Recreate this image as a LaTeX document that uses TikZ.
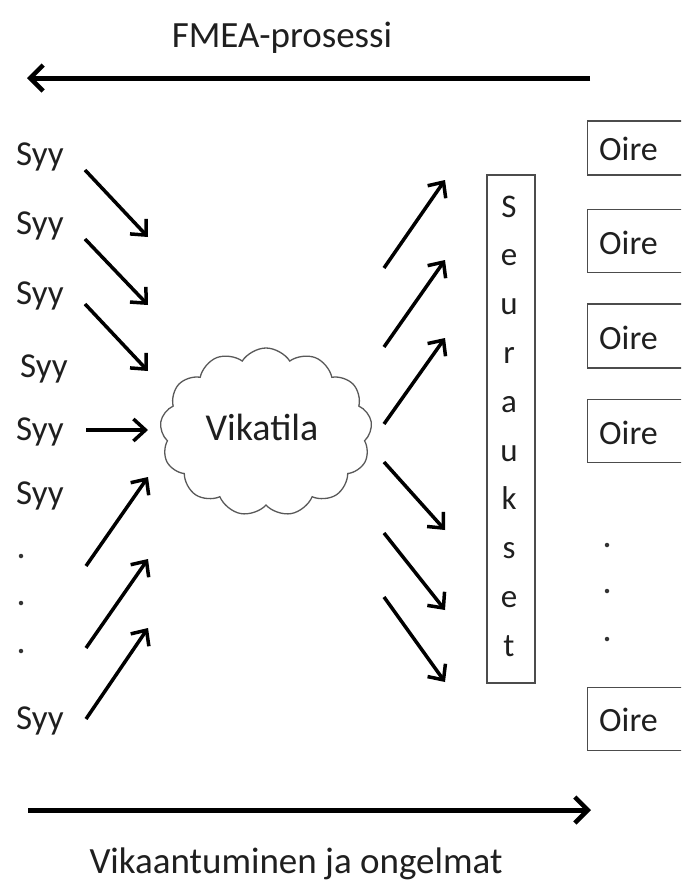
\documentclass[tikz,border=0pt]{standalone}
\usepackage{fontspec}
\setmainfont{Carlito}
\usetikzlibrary{arrows.meta,shapes.symbols}

\begin{document}
\begin{tikzpicture}[x=1pt,y=-1pt,
  txt/.style={font=\fontsize{35}{38}\selectfont, inner sep=0pt, text=black!88},
  smallarr/.style={line width=3.5pt, -{Straight Barb[length=12pt,width=22pt,line width=3.5pt]}},
  bigarr/.style={line width=5pt, -{Straight Barb[length=13pt,width=26pt,line width=4.5pt]}},
  box/.style={draw=black!70, line width=1.4pt, inner sep=0pt},
  dotmark/.style={circle, fill=black!80, inner sep=0pt, minimum size=4.5pt}]

\useasboundingbox (0,0) rectangle (681,881);

% headings
\node[txt, font=\fontsize{37}{40}\selectfont, anchor=base] (fmea) at (282,47) {FMEA-prosessi};
\node[txt, font=\fontsize{37}{40}\selectfont, anchor=base] (vika) at (296,873) {Vikaantuminen ja ongelmat};

% process direction arrows
\coordinate (topR) at (590,78);
\coordinate (topL) at (27,78);
\coordinate (botL) at (28,810);
\coordinate (botR) at (591,810);
\draw[bigarr] (topR) -- (topL);
\draw[bigarr] (botL) -- (botR);

% causes
\foreach \y/\x [count=\n] in {165/16, 234/16, 304/16, 377/20, 440/16, 504/16, 729/16}
  \node[txt, anchor=base west] (s\n) at (\x,\y) {Syy};
\node[dotmark] (d1) at (21,556) {};
\node[dotmark] (d2) at (21,603) {};
\node[dotmark] (d3) at (21,651) {};

% failure mode
\node[cloud, cloud puffs=13, cloud puff arc=115, aspect=1.3, draw=black!65, line width=1.3pt,
      minimum width=212pt, minimum height=168pt, inner sep=0pt] (cl) at (266,432) {};
\node[txt, font=\fontsize{38}{40}\selectfont, anchor=base] (vt) at (262,440) {Vikatila};

% cause arrows
\coordinate (c1a) at (85,170);  \coordinate (c1b) at (148,237);
\coordinate (c2a) at (85,239);  \coordinate (c2b) at (148,305);
\coordinate (c3a) at (85,304);  \coordinate (c3b) at (148,371);
\coordinate (c4a) at (86,430);  \coordinate (c4b) at (148,430);
\coordinate (c5a) at (86,566);  \coordinate (c5b) at (148,477);
\coordinate (c6a) at (86,648);  \coordinate (c6b) at (148,559);
\coordinate (c7a) at (86,719);  \coordinate (c7b) at (148,628);
\foreach \i in {1,...,7} \draw[smallarr] (c\i a) -- (c\i b);

% consequence arrows
\coordinate (e1a) at (384,268); \coordinate (e1b) at (445,180);
\coordinate (e2a) at (384,347); \coordinate (e2b) at (445,260);
\coordinate (e3a) at (384,424); \coordinate (e3b) at (445,338);
\coordinate (e4a) at (384,462); \coordinate (e4b) at (445,530);
\coordinate (e5a) at (384,533); \coordinate (e5b) at (445,610);
\coordinate (e6a) at (384,597); \coordinate (e6b) at (445,682);
\foreach \i in {1,...,6} \draw[smallarr] (e\i a) -- (e\i b);

% consequences box
\node[box, minimum width=48pt, minimum height=508pt] (seur) at (511,429) {};
\foreach \ch [count=\k from 0] in {S,e,u,r,a,u,k,s,e,t}
  \node[txt, font=\fontsize{33}{36}\selectfont, anchor=base] (ch\k) at (509,{217+\k*48.8}) {\ch};

% symptoms
\begin{scope}
\clip (0,0) rectangle (681,881);
\foreach \y/\h [count=\n] in {148/54, 241/63, 336/64, 431/63, 719/63}
  \node[box, anchor=west, minimum width=110pt, minimum height=\h pt] (o\n) at (587,\y) {};
\end{scope}
\foreach \y [count=\n] in {160,254,349,444,731}
  \node[txt, font=\fontsize{34}{36}\selectfont, anchor=base west] (ot\n) at (599,\y) {Oire};
\node[dotmark] (r1) at (607,545) {};
\node[dotmark] (r2) at (607,591) {};
\node[dotmark] (r3) at (607,639) {};

\end{tikzpicture}
\end{document}
